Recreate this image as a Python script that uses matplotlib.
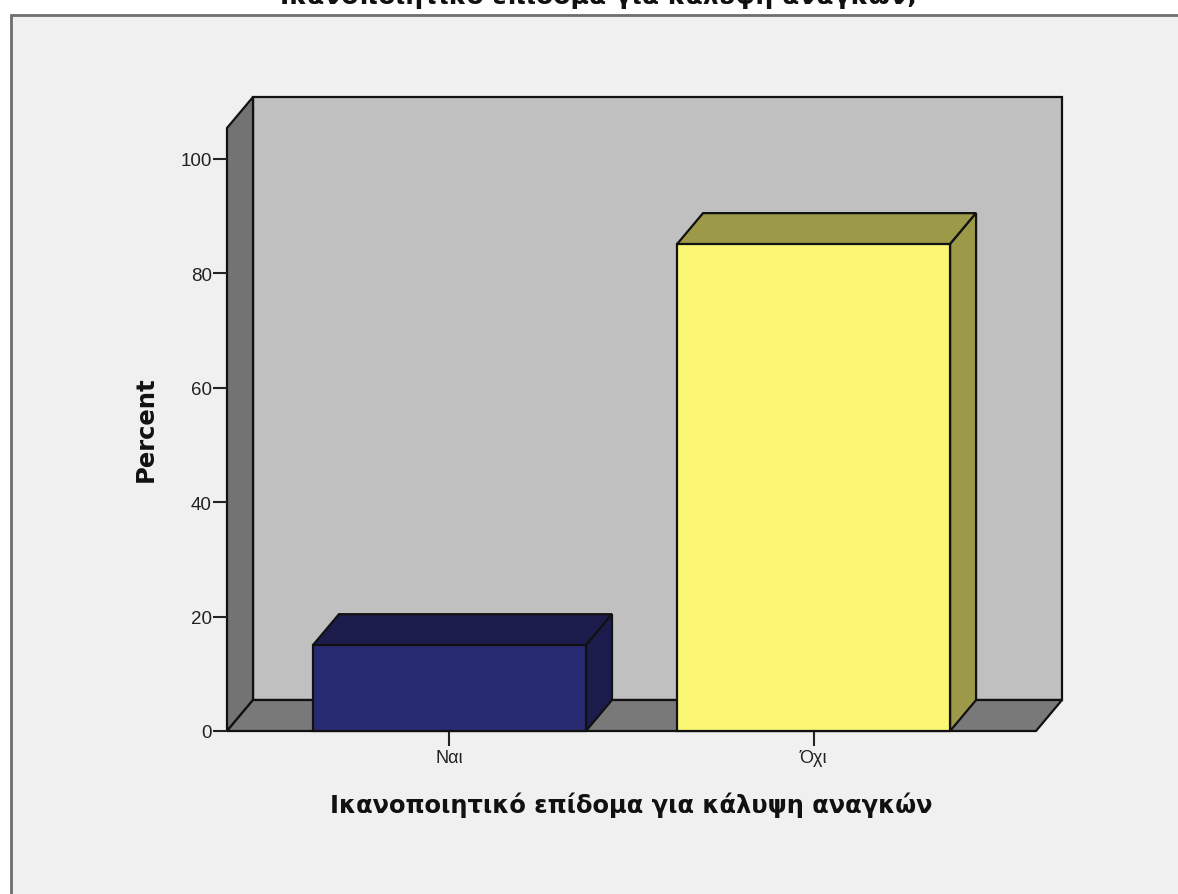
import matplotlib
matplotlib.use("Agg")
import matplotlib.pyplot as plt
from matplotlib.patches import Polygon, Rectangle

plt.rcParams['font.family'] = ['Liberation Sans', 'DejaVu Sans']

# Values
categories = ["Ναι", "Όχι"]
percent = [15.0, 85.1]
bar_colors = ["#282a72", "#fbf774"]
bar_dark = ["#1b1c4c", "#9c9a48"]
y_ticks = [0, 20, 40, 60, 80, 100]

title = "Ικανοποιητικό επίδομα για κάλυψη αναγκών"
W, H = 1178, 895
BG = "#f0f0f0"

fig = plt.figure(figsize=(W / 100, H / 100), dpi=100, facecolor="white")

# grey panel, runs off the right and bottom edge
fig.patches.append(Rectangle((11 / W, -0.1), 1.2, 1.1 - 16 / H, transform=fig.transFigure,
                             fc=BG, ec="#6e6e6e", lw=2, zorder=-1))

# front plane of the 3D box
ax = fig.add_axes([227 / W, 1 - 732 / H, (1036 - 227) / W, (732 - 129) / H])
ax.set_xlim(-0.611, 1.611)
ax.set_ylim(0, 105.4)
ax.patch.set_visible(False)
for s in ax.spines.values():
    s.set_visible(False)

# depth of the box in data units
dx = 26 / 364
dy = 31 / 5.72
x0, x1 = ax.get_xlim()
y1 = ax.get_ylim()[1]
bar_w = 0.75


def face(pts, color, z=1, lw=1.6):
    ax.add_patch(Polygon(pts, closed=True, fc=color, ec="#111111", lw=lw,
                         clip_on=False, zorder=z, joinstyle="miter"))


# back wall, side wall, floor
face([(x0 + dx, dy), (x1 + dx, dy), (x1 + dx, y1 + dy), (x0 + dx, y1 + dy)], "#c0c0c0")
face([(x0, 0), (x0 + dx, dy), (x0 + dx, y1 + dy), (x0, y1)], "#737373")
face([(x0, 0), (x1, 0), (x1 + dx, dy), (x0 + dx, dy)], "#797979")

for i, v in enumerate(percent):
    l, r = i - bar_w / 2, i + bar_w / 2
    face([(l, v), (r, v), (r + dx, v + dy), (l + dx, v + dy)], bar_dark[i], z=3)
    face([(r, 0), (r + dx, dy), (r + dx, v + dy), (r, v)], bar_dark[i], z=3)
    face([(l, 0), (r, 0), (r, v), (l, v)], bar_colors[i], z=4)

ax.set_yticks(y_ticks)
ax.set_xticks(range(len(categories)), categories)
ax.tick_params(axis="y", length=10, width=1.5, color="#222222", pad=1,
               labelsize=13.5, labelcolor="#222222")
ax.tick_params(axis="x", length=11, width=1.5, color="#222222", pad=2,
               labelsize=13, labelcolor="#222222")

heavy = dict(family="DejaVu Sans", fontweight="bold", color="#111111")
fig.text(146 / W, 1 - 429 / H, "Percent", rotation=90, ha="center", va="center",
         fontsize=17.5, **heavy)
fig.text(631 / W, 1 - 805 / H, title, ha="center", va="center", fontsize=17.4, **heavy)
fig.text(599 / W, 1 - 4 / H, title + ";", ha="center", va="baseline", fontsize=18, **heavy)

fig.savefig("out.png", dpi=100, facecolor="white")
